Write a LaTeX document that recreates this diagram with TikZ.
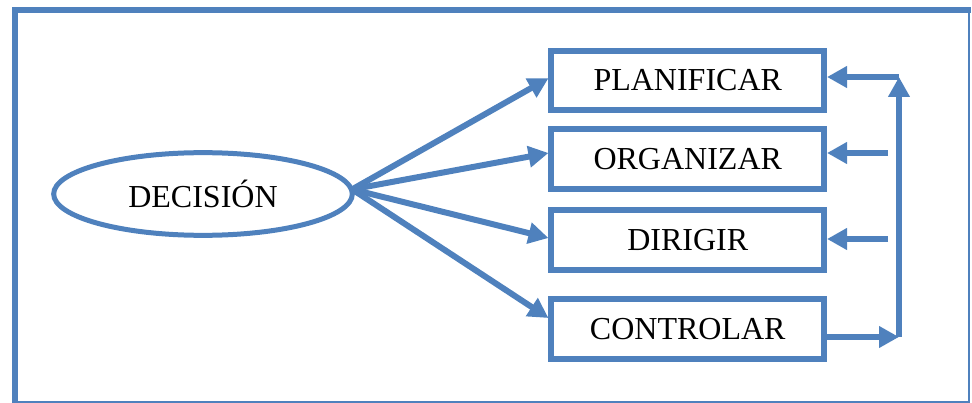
\documentclass[tikz,border=0pt]{standalone}
\usepackage{fontspec}
\setmainfont{Liberation Serif}
\usepackage{xcolor}
\usepackage{tikz}
\usetikzlibrary{shapes.geometric,arrows.meta}
\definecolor{ublue}{RGB}{79,129,189}

\begin{document}
\begin{tikzpicture}[x=0.75pt,y=-0.75pt,
            box/.style={shape=rectangle, draw=ublue, line width=4.5pt, minimum width=204.4pt, minimum height=44.6pt, inner sep=0pt, font=\fontsize{24}{28}\selectfont},
            oval/.style={shape=ellipse, draw=ublue, line width=3.75pt, minimum width=224pt, minimum height=62pt, inner sep=0pt, font=\fontsize{24}{28}\selectfont},
            arr/.style={draw=ublue, line width=4.5pt, -{Triangle[length=15pt,width=15.5pt]}}]
        \useasboundingbox (0,0) rectangle (972,403);
        % frame
        \draw[ublue, line width=4.5pt] (15,403) -- (15,10) -- (971,10);
        \draw[ublue, line width=1.5pt] (969,10) -- (969,401.5) -- (15,401.5);

        \node[oval] (dec) at (203,194) {DECISIÓN\hspace{13pt}};
        \node[box] (plan) at (687.75,80.25) {PLANIFICAR};
        \node[box] (org) at (687.75,159) {ORGANIZAR};
        \node[box] (dir) at (687.75,240) {DIRIGIR};
        \node[box] (ctrl) at (687.75,329) {CONTROLAR};

        \coordinate (fork) at ([xshift=-2pt,yshift=3.5pt]dec.east);
        \coordinate (rt) at (899,77);
        \coordinate (rb) at (899,337);

        \draw[arr] (fork) -- ([yshift=1.5pt]plan.west);
        \draw[arr] (fork) -- ([yshift=4.5pt]org.west);
        \draw[arr] (fork) -- ([yshift=1.5pt]dir.west);
        \draw[arr] (fork) -- ([yshift=8.25pt]ctrl.west);

        % feedback
        \draw[arr] (rb -| ctrl.east) -- (rb);
        \draw[arr] (rb) -- (rt);
        \draw[arr] (rt) -- (rt -| plan.east);
        \draw[arr] ([xshift=45.75pt,yshift=4.5pt]org.east) -- ([yshift=4.5pt]org.east);
        \draw[arr] ([xshift=45.75pt,yshift=0.75pt]dir.east) -- ([yshift=0.75pt]dir.east);
    \end{tikzpicture}
\end{document}
